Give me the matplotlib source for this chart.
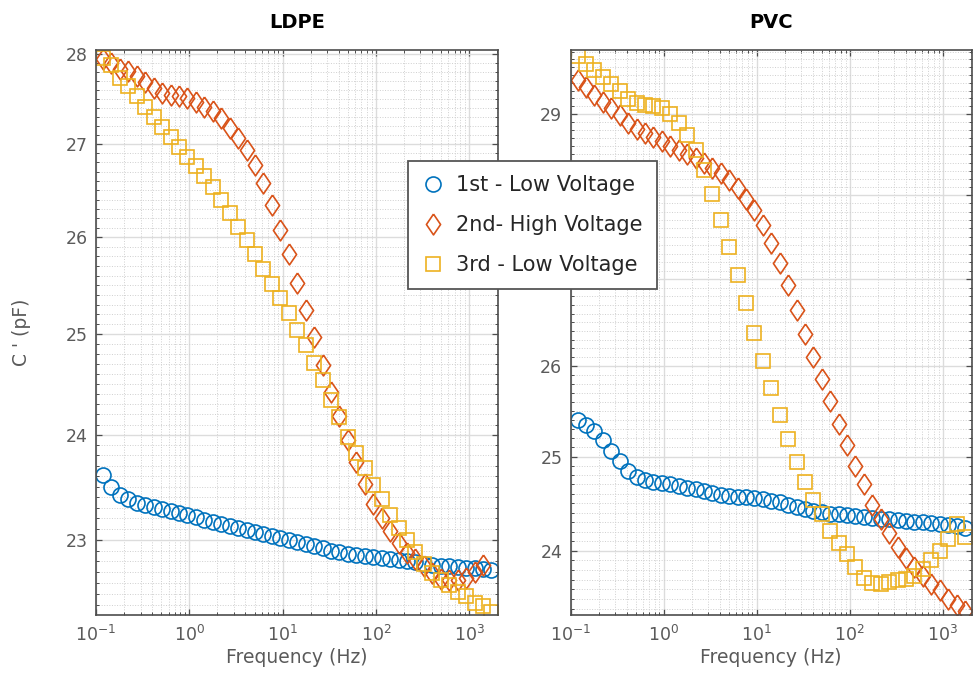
import numpy as np
import matplotlib
matplotlib.use("Agg")
import matplotlib.pyplot as plt
from matplotlib.ticker import MultipleLocator, FormatStrFormatter, FuncFormatter, LogLocator, NullFormatter

plt.rcParams['font.family'] = ['DejaVu Sans']

# frequency points (Hz), shared by all series
freq = [0.119, 0.146, 0.180, 0.222, 0.274, 0.337, 0.415, 0.511, 0.630, 0.775,
        0.955, 1.18, 1.45, 1.78, 2.20, 2.71, 3.33, 4.11, 5.06, 6.23,
        7.67, 9.45, 11.6, 14.3, 17.7, 21.8, 26.8, 33.0, 40.6, 50.1,
        61.7, 76.0, 93.5, 115, 142, 175, 215, 265, 327, 402,
        496, 610, 752, 926, 1140, 1404, 1730]

# LDPE  C' (pF)
ldpe_1st = [23.61, 23.50, 23.42, 23.38, 23.35, 23.33, 23.31, 23.29, 23.27, 23.25,
            23.23, 23.21, 23.19, 23.17, 23.15, 23.13, 23.11, 23.09, 23.07, 23.05,
            23.04, 23.02, 23.00, 22.98, 22.96, 22.94, 22.92, 22.90, 22.89, 22.87,
            22.86, 22.85, 22.84, 22.83, 22.82, 22.81, 22.80, 22.79, 22.78, 22.77,
            22.76, 22.76, 22.75, 22.74, 22.74, 22.73, 22.72]
ldpe_2nd = [27.95, 27.90, 27.84, 27.81, 27.76, 27.69, 27.62, 27.56, 27.54, 27.53,
            27.51, 27.47, 27.41, 27.36, 27.29, 27.18, 27.07, 26.94, 26.77, 26.58,
            26.34, 26.08, 25.82, 25.52, 25.25, 24.97, 24.69, 24.42, 24.18, 23.95,
            23.74, 23.53, 23.34, 23.20, 23.08, 22.97, 22.88, 22.82, 22.76, 22.69,
            22.64, 22.63, 22.63, 22.65, 22.70, 22.77, np.nan]
ldpe_3rd = [27.96, 27.88, 27.73, 27.64, 27.53, 27.41, 27.30, 27.19, 27.08, 26.97,
            26.86, 26.76, 26.65, 26.53, 26.40, 26.26, 26.11, 25.97, 25.82, 25.67,
            25.51, 25.37, 25.21, 25.04, 24.89, 24.71, 24.54, 24.34, 24.17, 23.98,
            23.82, 23.68, 23.52, 23.38, 23.23, 23.11, 23.00, 22.89, 22.78, 22.69,
            22.63, 22.58, 22.52, 22.48, 22.42, 22.39, 22.34]

# PVC  C' (pF)
pvc_1st = [25.40, 25.34, 25.28, 25.18, 25.06, 24.95, 24.84, 24.78, 24.75, 24.73,
           24.72, 24.70, 24.68, 24.66, 24.65, 24.63, 24.61, 24.59, 24.58, 24.57,
           24.56, 24.55, 24.54, 24.52, 24.51, 24.48, 24.46, 24.44, 24.42, 24.41,
           24.39, 24.38, 24.37, 24.36, 24.35, 24.34, 24.33, 24.33, 24.32, 24.31,
           24.30, 24.30, 24.29, 24.28, 24.27, 24.26, 24.24]
pvc_2nd = [29.43, 29.34, 29.24, 29.16, 29.08, 28.99, 28.89, 28.82, 28.76, 28.71,
           28.66, 28.60, 28.56, 28.51, 28.45, 28.39, 28.33, 28.27, 28.19, 28.09,
           27.96, 27.82, 27.64, 27.43, 27.19, 26.93, 26.64, 26.37, 26.10, 25.86,
           25.61, 25.35, 25.13, 24.90, 24.70, 24.48, 24.33, 24.18, 24.04, 23.92,
           23.83, 23.74, 23.66, 23.59, 23.50, 23.44, 23.38]
pvc_3rd = [29.74, 29.64, 29.56, 29.47, 29.38, 29.29, 29.19, 29.14, 29.12, 29.10,
           29.08, 29.01, 28.89, 28.74, 28.56, 28.31, 28.02, 27.70, 27.38, 27.05,
           26.72, 26.38, 26.06, 25.75, 25.45, 25.19, 24.94, 24.73, 24.53, 24.38,
           24.21, 24.08, 23.97, 23.83, 23.72, 23.67, 23.66, 23.68, 23.70, 23.71,
           23.74, 23.81, 23.90, 24.00, 24.12, 24.28, 24.14]

labels = ['1st - Low Voltage', '2nd- High Voltage', '3rd - Low Voltage']
colors = ['#0072BD', '#D95319', '#EDB120']
diamond = [(0, 1), (0.68, 0), (0, -1), (-0.68, 0), (0, 1)]
markers = [('o', 10.8), (diamond, 15), ('s', 9.4)]

# PVC y labels that sit under the legend box
pvc_hidden = [27, 28]

txt_gray = '#5a5a5a'

fig = plt.figure(figsize=(9.73, 6.73), dpi=100)
ax1 = fig.add_axes([0.0987, 0.0862, 0.4132, 0.8395])
ax2 = fig.add_axes([0.5865, 0.0862, 0.4121, 0.8395])


def draw_panel(ax, series, ylim, title):
    handles = []
    for y, c, (m, ms) in zip(series, colors, markers):
        h, = ax.plot(freq, y, linestyle='none', marker=m, markersize=ms,
                     markerfacecolor='none', markeredgecolor=c, markeredgewidth=1.2)
        handles.append(h)
    ax.set_xscale('log')
    ax.set_yscale('log')
    ax.set_xlim(0.1, 2040)
    ax.set_ylim(*ylim)
    ax.xaxis.set_major_locator(LogLocator(base=10, numticks=10))
    ax.xaxis.set_minor_locator(LogLocator(base=10, subs=np.arange(2, 10), numticks=20))
    ax.xaxis.set_minor_formatter(NullFormatter())
    ax.yaxis.set_major_locator(MultipleLocator(1))
    ax.yaxis.set_major_formatter(FormatStrFormatter('%d'))
    ax.yaxis.set_minor_locator(MultipleLocator(0.1))
    ax.yaxis.set_minor_formatter(NullFormatter())

    ax.grid(True, which='major', color='#dcdcdc', linewidth=1.0, linestyle='-')
    ax.grid(True, which='minor', color='#cfcfcf', linewidth=0.7, linestyle=':')
    ax.set_axisbelow(True)
    ax.tick_params(which='both', direction='in', top=True, right=True,
                   colors='#4d4d4d', labelcolor=txt_gray, labelsize=12.5)
    ax.tick_params(which='major', length=4.5, width=0.9)
    ax.tick_params(which='minor', length=2.5, width=0.7)
    ax.tick_params(axis='x', pad=7)
    ax.tick_params(axis='y', pad=6)
    for s in ax.spines.values():
        s.set_color('#4d4d4d')
        s.set_linewidth(1.2)

    ax.set_title(title, fontweight='bold', fontsize=14, pad=16, color='black')
    ax.set_xlabel('Frequency (Hz)', fontsize=13.5, color=txt_gray)
    ax.xaxis.set_label_coords(0.5, -0.058)
    return handles


hs = draw_panel(ax1, [ldpe_1st, ldpe_2nd, ldpe_3rd], (22.31, 28.05), 'LDPE')
draw_panel(ax2, [pvc_1st, pvc_2nd, pvc_3rd], (23.34, 29.82), 'PVC')
ax2.yaxis.set_major_formatter(
    FuncFormatter(lambda v, p: '' if round(v) in pvc_hidden else '%d' % round(v)))

ax1.set_ylabel("C ' (pF)", fontsize=13.5, color=txt_gray)
ax1.yaxis.set_label_coords(-0.162, 0.5)

leg = fig.legend(hs, labels, loc='upper left', bbox_to_anchor=(0.4193, 0.7612),
                 fontsize=15, handlelength=1.0, handletextpad=0.6, borderpad=0.7,
                 labelspacing=0.95, fancybox=False, framealpha=1, edgecolor='#555555',
                 borderaxespad=0)
leg.get_frame().set_linewidth(1.3)
for t in leg.get_texts():
    t.set_color('#262626')

fig.savefig('out.png', dpi=100)
